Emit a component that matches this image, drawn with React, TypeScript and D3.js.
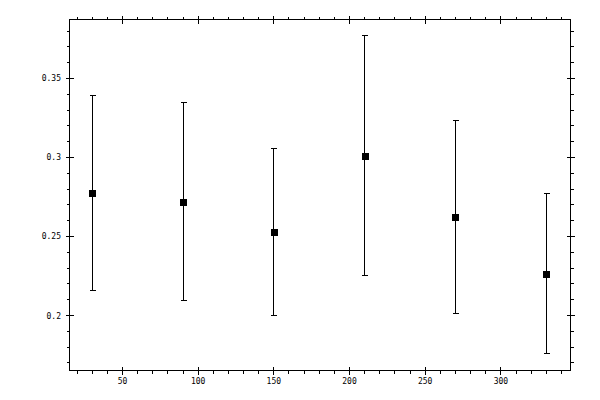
import * as d3 from 'd3';
import { useEffect, useRef } from 'react';

const xValues = [30, 90, 150, 210, 270, 330];
const yValues = [0.2778, 0.272, 0.253, 0.3012, 0.2625, 0.2264];
const yUpper = [0.3392, 0.3348, 0.3056, 0.3773, 0.3234, 0.2771];
const yLower = [0.2157, 0.2095, 0.1998, 0.2252, 0.2011, 0.1757];

const xMajorTicks = [50, 100, 150, 200, 250, 300];
const yMajorTicks = [0.2, 0.25, 0.3, 0.35];
const yTickLabels = ['0.2', '0.25', '0.3', '0.35'];

export default function App() {
  const svgRef = useRef<SVGSVGElement>(null);

  useEffect(() => {
    if (!svgRef.current) return;

    const width = 600;
    const height = 400;
    const left = 69.5, right = 570.5, top = 19.5, bottom = 370.5;

    const x = d3.scaleLinear().domain([15, 346]).range([left, right]);
    const y = d3.scaleLinear().domain([0.1652, 0.3873]).range([bottom, top]);

    const svg = d3.select(svgRef.current)
      .attr('width', width)
      .attr('height', height);
    svg.selectAll('*').remove();

    svg.append('rect')
      .attr('width', width).attr('height', height).attr('fill', '#fff');

    // frame
    svg.append('rect')
      .attr('x', left).attr('y', top)
      .attr('width', right - left).attr('height', bottom - top)
      .attr('fill', 'none').attr('stroke', '#000').attr('stroke-width', 1);

    const snap = (v: number) => Math.round(v - 0.5) + 0.5;
    const g = svg.append('g').attr('stroke', '#000').attr('stroke-width', 1).attr('shape-rendering', 'crispEdges');

    // x minor ticks (outside), every 10
    const xMinor = d3.range(20, 346, 10).filter((v) => v % 50 !== 0);
    xMinor.forEach((v) => {
      const px = snap(x(v));
      g.append('line').attr('x1', px).attr('x2', px).attr('y1', top).attr('y2', top - 3);
      g.append('line').attr('x1', px).attr('x2', px).attr('y1', bottom).attr('y2', bottom + 3);
    });
    xMajorTicks.forEach((v) => {
      const px = snap(x(v));
      g.append('line').attr('x1', px).attr('x2', px).attr('y1', top - 4).attr('y2', top + 4);
      g.append('line').attr('x1', px).attr('x2', px).attr('y1', bottom - 4).attr('y2', bottom + 4);
    });

    // y minor ticks every 0.01
    const yMinor = d3.range(17, 39).map((v) => v / 100).filter((v) => Math.round(v * 100) % 5 !== 0);
    yMinor.forEach((v) => {
      const py = snap(y(v));
      g.append('line').attr('y1', py).attr('y2', py).attr('x1', left).attr('x2', left - 3);
      g.append('line').attr('y1', py).attr('y2', py).attr('x1', right).attr('x2', right + 3);
    });
    yMajorTicks.forEach((v) => {
      const py = snap(y(v));
      g.append('line').attr('y1', py).attr('y2', py).attr('x1', left - 4).attr('x2', left + 4);
      g.append('line').attr('y1', py).attr('y2', py).attr('x1', right - 4).attr('x2', right + 4);
    });

    // labels
    const labels = svg.append('g')
      .attr('font-family', 'DejaVu Sans Mono')
      .attr('font-size', 8)
      .attr('fill', '#000');
    xMajorTicks.forEach((v) => {
      labels.append('text')
        .attr('x', x(v)).attr('y', 384)
        .attr('text-anchor', 'middle')
        .text(String(v));
    });
    yMajorTicks.forEach((v, i) => {
      labels.append('text')
        .attr('x', 61).attr('y', y(v) + 3)
        .attr('text-anchor', 'end')
        .text(yTickLabels[i]);
    });

    // error bars
    const bars = svg.append('g').attr('stroke', '#000').attr('stroke-width', 1).attr('shape-rendering', 'crispEdges');
    xValues.forEach((v, i) => {
      const px = snap(x(v));
      const y1 = snap(y(yUpper[i]));
      const y2 = snap(y(yLower[i]));
      bars.append('line').attr('x1', px).attr('x2', px).attr('y1', y1).attr('y2', y2);
      bars.append('line').attr('x1', px - 3).attr('x2', px + 3).attr('y1', y1).attr('y2', y1);
      bars.append('line').attr('x1', px - 3).attr('x2', px + 3).attr('y1', y2).attr('y2', y2);
    });

    // markers
    svg.append('g').selectAll('rect')
      .data(xValues)
      .enter()
      .append('rect')
      .attr('x', (d) => Math.round(x(d)) - 3.5)
      .attr('y', (_, i) => Math.round(y(yValues[i])) - 3.5)
      .attr('width', 7)
      .attr('height', 7)
      .attr('fill', '#000')
      .attr('shape-rendering', 'crispEdges');
  }, []);

  return <svg ref={svgRef} style={{ position: 'absolute', left: 0, top: 0 }} />;
}
